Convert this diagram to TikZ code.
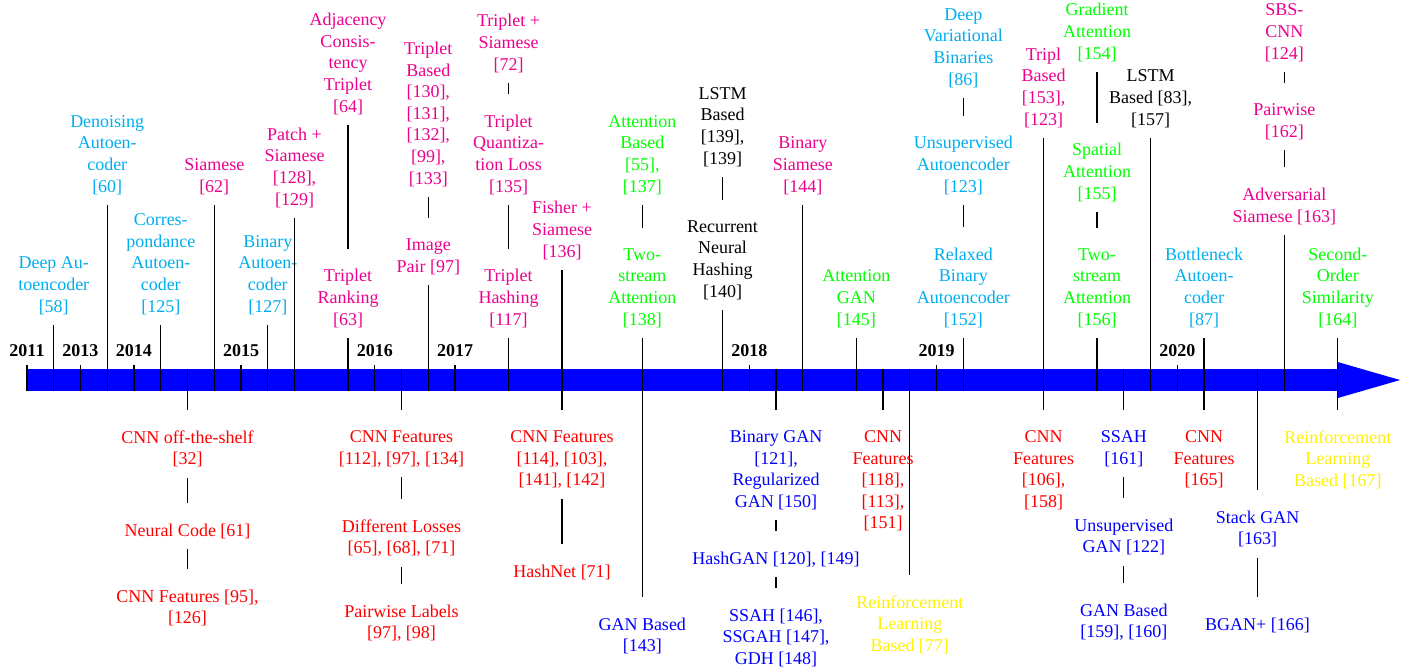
\documentclass[tikz,border=0pt]{standalone}
\usepackage{fontspec}
\setmainfont{Liberation Serif}
\definecolor{skycyan}{RGB}{0,174,239}
\definecolor{pinkmag}{RGB}{236,0,140}
\definecolor{lemon}{RGB}{255,242,0}
\tikzset{
  ev/.style={align=center, inner sep=5.56pt},
  ae/.style={ev, text=skycyan},
  siam/.style={ev, text=pinkmag},
  attn/.style={ev, text=green},
  cnn/.style={ev, text=red},
  gan/.style={ev, text=blue},
  rl/.style={ev, text=lemon},
  rnn/.style={ev, text=black},
  up/.style={anchor=south},
  dn/.style={anchor=north},
  year/.style={fill=white, inner sep=4.44pt, font=\bfseries, anchor=south},
  link/.style={shorten >=5.56pt}
}
\begin{document}
\begin{tikzpicture}[x=14.861pt, y=0.5556pt, line width=0.6pt]
      \useasboundingbox (-1.0093,-291) rectangle (51.813,380);
      \fill[blue] (0,-11) rectangle (49,11);
      \fill[blue] (49,18) -- (51.33,0) -- (49,-18) -- cycle;
      \path
        (0,-11) coordinate (b0) (1,-11) coordinate (b1) (2,-11) coordinate (b2)
        (3,-11) coordinate (b3) (4,-11) coordinate (b4) (5,-11) coordinate (b5)
        (7,-11) coordinate (b7) (8,-11) coordinate (b8) (9,-11) coordinate (b9)
        (10,-11) coordinate (b10) (12,-11) coordinate (b12) (13,-11) coordinate (b13)
        (15,-11) coordinate (b15) (16,-11) coordinate (b16) (18,-11) coordinate (b18)
        (20,-11) coordinate (b20) (23,-11) coordinate (b23) (26,-11) coordinate (b26)
        (27,-11) coordinate (b27) (29,-11) coordinate (b29) (31,-11) coordinate (b31)
        (34,-11) coordinate (b34) (35,-11) coordinate (b35) (38,-11) coordinate (b38)
        (40,-11) coordinate (b40) (42,-11) coordinate (b42) (43,-11) coordinate (b43)
        (44,-11) coordinate (b44) (47,-11) coordinate (b47) (49,-11) coordinate (b49)
        (6,11) coordinate (t6) (14,11) coordinate (t14) (20,11) coordinate (t20)
        (23,11) coordinate (t23) (28,11) coordinate (t28) (32,11) coordinate (t32)
        (33,11) coordinate (t33) (38,11) coordinate (t38) (41,11) coordinate (t41)
        (44,11) coordinate (t44) (46,11) coordinate (t46) (49,11) coordinate (t49);
      \path
        (1,55) node[ae,up] (dae) {Deep Au-\\toencoder\\{[58]}}
        (3,175) node[ae,up] (dnae) {Denoising\\Autoen-\\coder\\{[60]}}
        (5,55) node[ae,up] (cae) {Corres-\\pondance\\Autoen-\\coder\\{[125]}}
        (7,175) node[siam,up] (siam62) {Siamese\\{[62]}}
        (9,55) node[ae,up] (bae) {Binary\\Autoen-\\coder\\{[127]}}
        (10,162) node[siam,up] (patch) {Patch +\\Siamese\\{[128],}\\{[129]}}
        (12,255) node[siam,up] (adj) {Adjacency\\Consis-\\tency\\Triplet\\{[64]}}
        (12,42) node[siam,up] (trank) {Triplet\\Ranking\\{[63]}}
        (15,183) node[siam,up] (tbased) {Triplet\\Based\\{[130],}\\{[131],}\\{[132],}\\{[99],}\\{[133]}}
        (15,95) node[siam,up] (ipair) {Image\\Pair [97]}
        (18,297) node[siam,up] (tsiam) {Triplet +\\Siamese\\{[72]}}
        (18,175) node[siam,up] (tquant) {Triplet\\Quantiza-\\tion Loss\\{[135]}}
        (18,42) node[siam,up] (thash) {Triplet\\Hashing\\{[117]}}
        (20,110) node[siam,up] (fisher) {Fisher +\\Siamese\\{[136]}}
        (23,175) node[attn,up] (attb) {Attention\\Based\\{[55],}\\{[137]}}
        (23,42) node[attn,up] (tsatt) {Two-\\stream\\Attention\\{[138]}}
        (26,203) node[rnn,up] (lstma) {LSTM\\Based\\{[139],}\\{[139]}}
        (26,70) node[rnn,up] (rnh) {Recurrent\\Neural\\Hashing\\{[140]}}
        (29,175) node[siam,up] (bsiam) {Binary\\Siamese\\{[144]}}
        (31,42) node[attn,up] (attgan) {Attention\\GAN\\{[145]}}
        (35,282) node[ae,up] (dvb) {Deep\\Variational\\Binaries\\{[86]}}
        (35,175) node[ae,up] (uae) {Unsupervised\\Autoencoder\\{[123]}}
        (35,42) node[ae,up] (rbae) {Relaxed\\Binary\\Autoencoder\\{[152]}}
        (38,242) node[siam,up] (tripl) {Tripl\\Based\\{[153],}\\{[123]}}
        (40,308) node[attn,up] (gatt) {Gradient\\Attention\\{[154]}}
        (40,168) node[attn,up] (satt) {Spatial\\Attention\\{[155]}}
        (40,42) node[attn,up] (tsatt2) {Two-\\stream\\Attention\\{[156]}}
        (42,242) node[rnn,up] (lstmb) {LSTM\\Based [83],\\{[157]}}
        (44,42) node[ae,up] (bnae) {Bottleneck\\Autoen-\\coder\\{[87]}}
        (47,308) node[siam,up] (sbs) {SBS-\\CNN\\{[124]}}
        (47,230) node[siam,up] (pw) {Pairwise\\{[162]}}
        (47,145) node[siam,up] (advs) {Adversarial\\Siamese [163]}
        (49,42) node[attn,up] (soord) {Second-\\Order\\Similarity\\{[164]}};
      \path
        (6,-40) node[cnn,dn] (cots) {CNN off-the-shelf\\{[32]}}
        (6,-133) node[cnn,dn] (ncode) {Neural Code [61]}
        (6,-199) node[cnn,dn] (cnn95) {CNN Features [95],\\{[126]}}
        (14,-40) node[cnn,dn] (cnn112) {CNN Features\\{[112], [97], [134]}}
        (14,-129) node[cnn,dn] (dloss) {Different Losses\\{[65], [68], [71]}}
        (14,-214) node[cnn,dn] (pwl) {Pairwise Labels\\{[97], [98]}}
        (20,-40) node[cnn,dn] (cnn114) {CNN Features\\{[114], [103],}\\{[141], [142]}}
        (20,-174) node[cnn,dn] (hnet) {HashNet [71]}
        (23,-227) node[gan,dn] (ganb) {GAN Based\\{[143]}}
        (28,-40) node[gan,dn] (bgan) {Binary GAN\\{[121],}\\Regularized\\GAN [150]}
        (28,-161) node[gan,dn] (hgan) {HashGAN [120], [149]}
        (28,-218) node[gan,dn] (ssah) {SSAH [146],\\SSGAH [147],\\GDH [148]}
        (32,-40) node[cnn,dn] (cnn118) {CNN\\Features\\{[118],}\\{[113],}\\{[151]}}
        (33,-205) node[rl,dn] (rl77) {Reinforcement\\Learning\\Based [77]}
        (38,-40) node[cnn,dn] (cnn106) {CNN\\Features\\{[106],}\\{[158]}}
        (41,-40) node[gan,dn] (ssah161) {SSAH\\{[161]}}
        (41,-128) node[gan,dn] (ugan) {Unsupervised\\GAN [122]}
        (41,-213) node[gan,dn] (ganb2) {GAN Based\\{[159], [160]}}
        (44,-40) node[cnn,dn] (cnn165) {CNN\\Features\\{[165]}}
        (46,-120) node[gan,dn] (sgan) {Stack GAN\\{[163]}}
        (46,-227) node[gan,dn] (bganp) {BGAN+ [166]}
        (49,-40) node[rl,dn] (rl167) {Reinforcement\\Learning\\Based [167]};
      \begin{scope}[-]
        \draw (dae) to (b1);
        \draw (dnae) to (b3);
        \draw (cae) to (b5);
        \draw (siam62) to (b7);
        \draw (bae) to (b9);
        \draw (patch) to (b10);
        \draw (trank) to (b12);
        \draw (ipair) to (b15);
        \draw (thash) to (b18);
        \draw (fisher) to (b20);
        \draw (tsatt) to (b23);
        \draw (rnh) to (b26);
        \draw (bsiam) to (b29);
        \draw (attgan) to (b31);
        \draw (rbae) to (b35);
        \draw (tripl) to (b38);
        \draw (tsatt2) to (b40);
        \draw (lstmb) to (b42);
        \draw (bnae) to (b44);
        \draw (advs) to (b47);
        \draw (soord) to (b49);
        \draw[link] (adj) to (trank);
        \draw[link] (tbased) to (ipair);
        \draw[link] (tsiam) to (tquant);
        \draw[link] (tquant) to (thash);
        \draw[link] (attb) to (tsatt);
        \draw[link] (lstma) to (rnh);
        \draw[link] (dvb) to (uae);
        \draw[link] (uae) to (rbae);
        \draw[link] (gatt) to (satt);
        \draw[link] (satt) to (tsatt2);
        \draw[link] (sbs) to (pw);
        \draw[link] (pw) to (advs);
        \draw[link] (t6) to (cots);
        \draw[link] (t14) to (cnn112);
        \draw[link] (t20) to (cnn114);
        \draw[link] (t23) to (ganb);
        \draw[link] (t28) to (bgan);
        \draw[link] (t32) to (cnn118);
        \draw[link] (t33) to (rl77);
        \draw[link] (t38) to (cnn106);
        \draw[link] (t41) to (ssah161);
        \draw[link] (t44) to (cnn165);
        \draw[link] (t46) to (sgan);
        \draw[link] (t49) to (rl167);
        \draw[link] (cots) to (ncode);
        \draw[link] (ncode) to (cnn95);
        \draw[link] (cnn112) to (dloss);
        \draw[link] (dloss) to (pwl);
        \draw[link] (cnn114) to (hnet);
        \draw[link] (bgan) to (hgan);
        \draw[link] (hgan) to (ssah);
        \draw[link] (ssah161) to (ugan);
        \draw[link] (ugan) to (ganb2);
        \draw[link] (sgan) to (bganp);
      \end{scope}
      \path
        (0,15) node[year] (y2011) {2011}
        (2,15) node[year] (y2013) {2013}
        (4,15) node[year] (y2014) {2014}
        (8,15) node[year] (y2015) {2015}
        (13,15) node[year] (y2016) {2016}
        (16,15) node[year] (y2017) {2017}
        (27,15) node[year] (y2018) {2018}
        (34,15) node[year] (y2019) {2019}
        (43,15) node[year] (y2020) {2020};
      \begin{scope}[-]
        \draw (y2011) to (b0);
        \draw (y2013) to (b2);
        \draw (y2014) to (b4);
        \draw (y2015) to (b8);
        \draw (y2016) to (b13);
        \draw (y2017) to (b16);
        \draw (y2018) to (b27);
        \draw (y2019) to (b34);
        \draw (y2020) to (b43);
      \end{scope}
    \end{tikzpicture}
\end{document}
